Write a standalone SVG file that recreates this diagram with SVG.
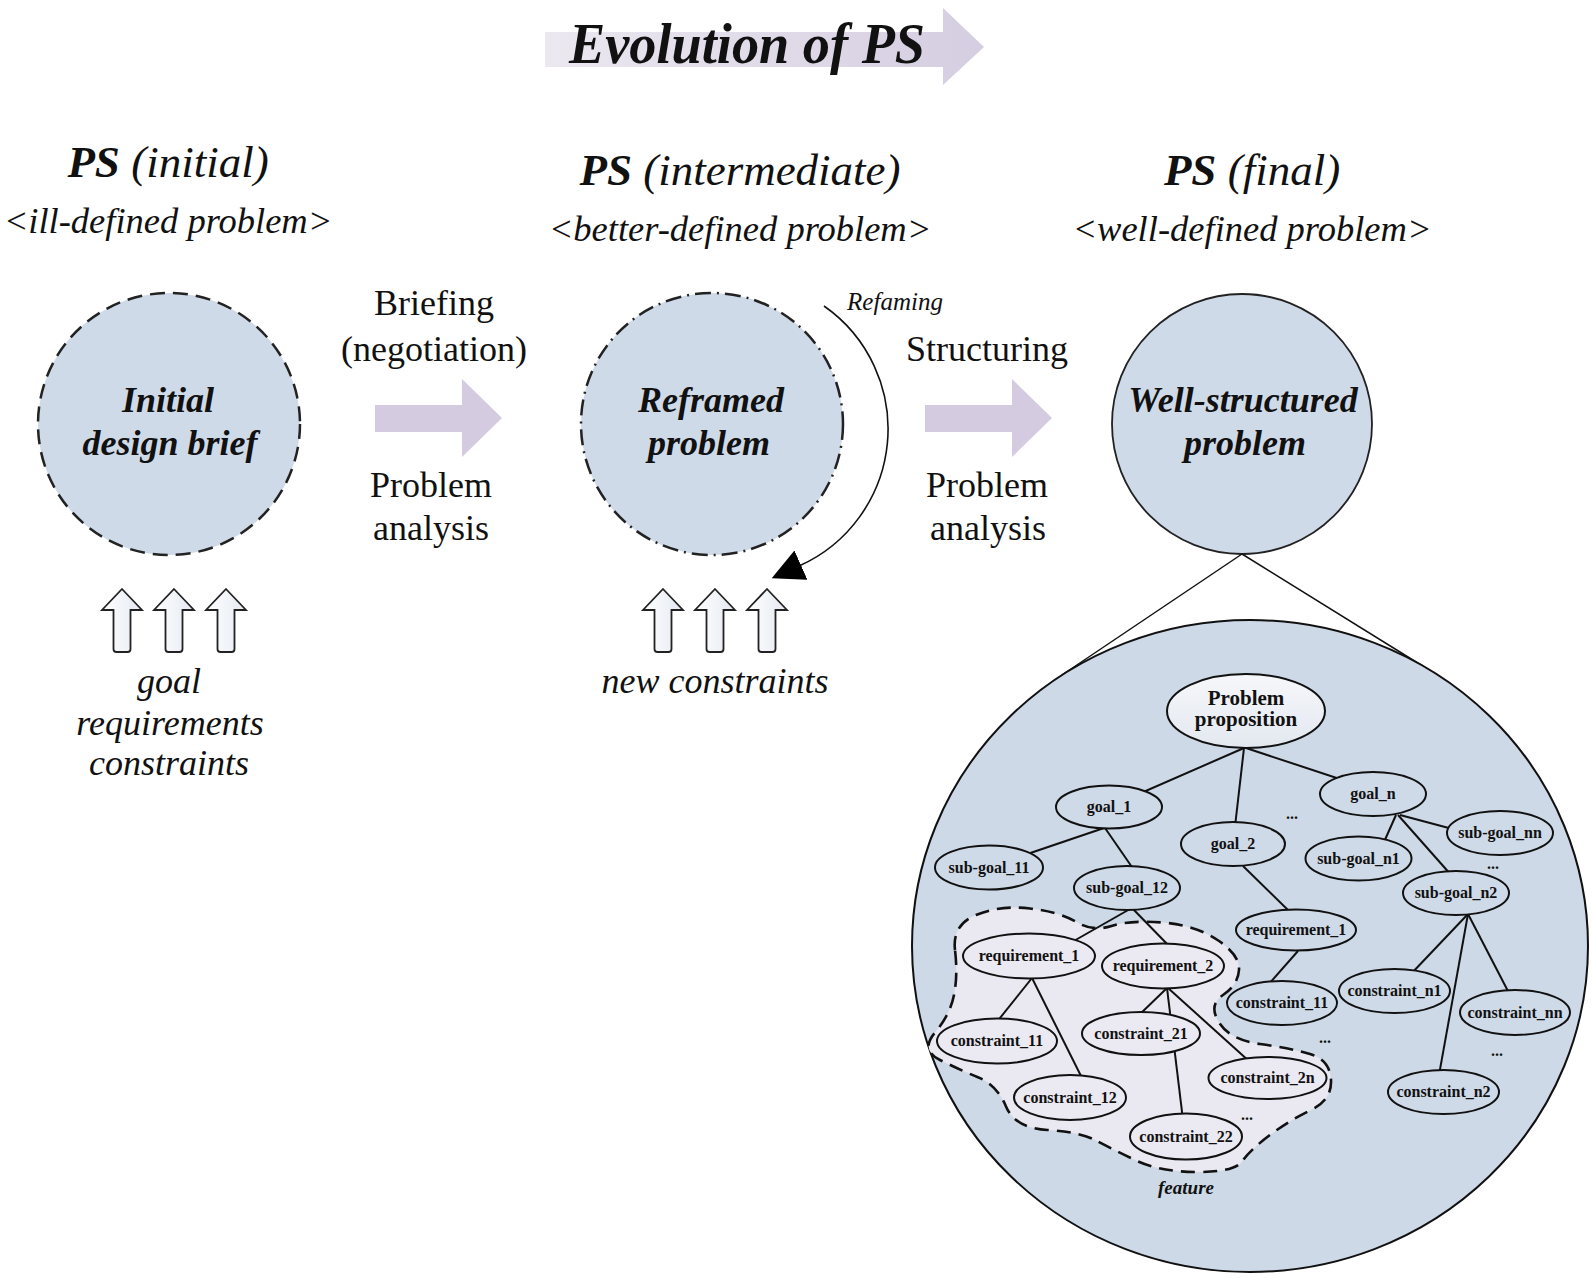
<svg xmlns="http://www.w3.org/2000/svg" width="1594" height="1279" viewBox="0 0 1594 1279">
<defs>
<linearGradient id="gTitle" x1="0" y1="0" x2="1" y2="0"><stop offset="0" stop-color="#ebe8f0"/><stop offset="1" stop-color="#d5cde1"/></linearGradient>
<linearGradient id="gUp" x1="0" y1="0" x2="1" y2="0"><stop offset="0" stop-color="#ffffff"/><stop offset="1" stop-color="#e4e9f1"/></linearGradient>
<linearGradient id="gPP" x1="0" y1="0" x2="0" y2="1"><stop offset="0" stop-color="#f6f7fa"/><stop offset="1" stop-color="#e3e8f0"/></linearGradient>
<marker id="tri" markerUnits="userSpaceOnUse" markerWidth="32" markerHeight="32" viewBox="0 0 30 30" refX="2" refY="15" orient="auto"><path d="M0,0 L30,15 L0,30 Z" fill="#000"/></marker>
<path id="uparrow" d="M0,0 L20,21 H8.5 V60 Q8.5,63 5.5,63 H-5.5 Q-8.5,63 -8.5,60 V21 H-20 Z"/>
<path id="blockarrow" d="M0,-13 H87 V-39 L127,0 L87,39 V14 H0 Z"/>
</defs>
<style>
text{font-family:"Liberation Serif","Times New Roman",serif;fill:#111}
.hdr{font-size:45px;font-style:italic;text-anchor:middle}
.b{font-weight:bold}
.sub{font-size:36.5px;font-style:italic;text-anchor:middle}
.ct{font-size:36px;font-weight:bold;font-style:italic;text-anchor:middle}
.lbl{font-size:36px;text-anchor:middle}
.inp{font-size:36px;font-style:italic;text-anchor:middle}
.circ{fill:#cfdae8}
.nd ellipse{fill:#cfdae8;stroke:#111;stroke-width:2}
.nf ellipse{fill:#ebe9f2;stroke:#111;stroke-width:2}
.nd text,.nf text{font-size:16px;font-weight:bold;text-anchor:middle}
.con line{stroke:#111;stroke-width:2}
.dots{font-size:16px;font-weight:bold;text-anchor:middle}
.blk{fill:#d4cbe0}
.up{fill:url(#gUp);stroke:#222;stroke-width:1.8}
</style>

<g id="title">
<path d="M545,32 H943 V8 L984,47 L943,85 V67 H545 Z" fill="url(#gTitle)"/>
<text x="747" y="63" font-size="56" font-weight="bold" font-style="italic" text-anchor="middle" textLength="356" lengthAdjust="spacingAndGlyphs">Evolution of PS</text>
</g>

<g id="headers">
<text class="hdr" x="168" y="177"><tspan class="b">PS</tspan> (initial)</text>
<text class="sub" x="168" y="233">&lt;ill-defined problem&gt;</text>
<text class="hdr" x="740" y="185"><tspan class="b">PS</tspan> (intermediate)</text>
<text class="sub" x="740" y="241">&lt;better-defined problem&gt;</text>
<text class="hdr" x="1252" y="185"><tspan class="b">PS</tspan> (final)</text>
<text class="sub" x="1252" y="241">&lt;well-defined problem&gt;</text>
</g>

<g id="node-initial">
<circle class="circ" cx="169" cy="424" r="131" stroke="#222" stroke-width="2.5" stroke-dasharray="15 8"/>
<text class="ct" x="168" y="412">Initial</text>
<text class="ct" x="170" y="455">design brief</text>
</g>

<g id="node-reframed">
<circle class="circ" cx="712" cy="424" r="131" stroke="#222" stroke-width="2.5" stroke-dasharray="16 6 2 6"/>
<text class="ct" x="711" y="412">Reframed</text>
<text class="ct" x="709" y="455">problem</text>
</g>

<g id="node-well">
<circle class="circ" cx="1242" cy="424" r="130" stroke="#222" stroke-width="1.8"/>
<text class="ct" x="1243" y="412">Well-structured</text>
<text class="ct" x="1245" y="455">problem</text>
</g>

<g id="transition-1">
<use href="#blockarrow" x="375" y="418" class="blk"/>
<text class="lbl" x="434" y="315">Briefing</text>
<text class="lbl" x="434" y="361">(negotiation)</text>
<text class="lbl" x="431" y="497">Problem</text>
<text class="lbl" x="431" y="540">analysis</text>
</g>

<g id="transition-2">
<use href="#blockarrow" x="925" y="418" class="blk"/>
<text class="lbl" x="987" y="361">Structuring</text>
<text class="lbl" x="987" y="497">Problem</text>
<text class="lbl" x="988" y="540">analysis</text>
</g>

<g id="reframing">
<path d="M824,306 A150,150 0 0 1 799,566" fill="none" stroke="#111" stroke-width="1.6" marker-end="url(#tri)"/>
<text x="895" y="310" font-size="25" font-style="italic" text-anchor="middle">Refaming</text>
</g>

<g id="inputs-initial">
<use href="#uparrow" x="122" y="589" class="up"/>
<use href="#uparrow" x="174" y="589" class="up"/>
<use href="#uparrow" x="226" y="589" class="up"/>
<text class="inp" x="169" y="693">goal</text>
<text class="inp" x="170" y="735" font-size="37">requirements</text>
<text class="inp" x="169" y="775">constraints</text>
</g>

<g id="inputs-reframed">
<use href="#uparrow" x="663" y="589" class="up"/>
<use href="#uparrow" x="715" y="589" class="up"/>
<use href="#uparrow" x="767" y="589" class="up"/>
<text class="inp" x="715" y="693">new constraints</text>
</g>

<g id="zoom-lines" stroke="#111" stroke-width="1.5">
<line x1="1242" y1="554" x2="1062" y2="675"/>
<line x1="1242" y1="554" x2="1429" y2="670"/>
</g>

<g id="structure-circle">
<ellipse cx="1250" cy="946" rx="338" ry="326" fill="#cdd9e7" stroke="#111" stroke-width="2"/>
</g>

<g id="feature">
<path d="M955,950 Q952,925 976,915 Q1000,905 1030,908.5 Q1060,912 1076.5,922 Q1093,932 1111.5,926 Q1130,920 1162.5,922.5 Q1195,925 1217.5,940 Q1240,955 1239,970 Q1238,985 1223,995 Q1208,1005 1219,1022.5 Q1230,1040 1260,1044 Q1290,1048 1310,1054 Q1330,1060 1331,1080 Q1332,1100 1311,1110 Q1290,1120 1270,1135 Q1250,1150 1242.5,1161 Q1235,1172 1197.5,1172 Q1160,1172 1135,1160 Q1110,1148 1095,1140 Q1080,1132 1047.5,1130 Q1015,1128 1006,1106.5 Q997,1085 978.5,1077.5 Q960,1070 940,1060 Q920,1050 935,1032.5 Q950,1015 954,995 Q958,975 955,950 Z" fill="#eae8f1" stroke="#111" stroke-width="2.6" stroke-dasharray="14 8"/>
<text x="1186" y="1194" font-size="19" font-weight="bold" font-style="italic" text-anchor="middle">feature</text>
</g>

<g id="connectors" class="con">
<line x1="1244" y1="748" x2="1109" y2="807"/>
<line x1="1244" y1="748" x2="1233" y2="844"/>
<line x1="1246" y1="748" x2="1373" y2="790"/>
<line x1="1104" y1="828" x2="989" y2="867"/>
<line x1="1105" y1="828" x2="1134" y2="870"/>
<line x1="1243" y1="866" x2="1290" y2="912"/>
<line x1="1298" y1="951" x2="1268" y2="985"/>
<line x1="1396" y1="815" x2="1384" y2="842"/>
<line x1="1400" y1="815" x2="1460" y2="831"/>
<line x1="1398" y1="815" x2="1452" y2="876"/>
<line x1="1468" y1="914" x2="1410" y2="975"/>
<line x1="1468" y1="914" x2="1439" y2="1075"/>
<line x1="1468" y1="914" x2="1510" y2="995"/>
<line x1="1130" y1="909" x2="1072" y2="942"/>
<line x1="1133" y1="909" x2="1171" y2="948"/>
<line x1="1032" y1="978" x2="996" y2="1023"/>
<line x1="1032" y1="978" x2="1083" y2="1080"/>
<line x1="1167" y1="988" x2="1137" y2="1017"/>
<line x1="1167" y1="988" x2="1183" y2="1120"/>
<line x1="1168" y1="988" x2="1250" y2="1062"/>
</g>

<g id="n-problem-proposition">
<ellipse cx="1246" cy="711" rx="79" ry="37" fill="url(#gPP)" stroke="#111" stroke-width="2"/>
<text x="1246" y="705" font-size="21" font-weight="bold" text-anchor="middle">Problem</text>
<text x="1246" y="726" font-size="21" font-weight="bold" text-anchor="middle">proposition</text>
</g>
<g id="n-goal_1" class="nd"><ellipse cx="1109" cy="807" rx="53" ry="21.5"/><text x="1109" y="812">goal_1</text></g>
<g id="n-goal_2" class="nd"><ellipse cx="1233" cy="844" rx="52" ry="22"/><text x="1233" y="849">goal_2</text></g>
<g id="n-goal_n" class="nd"><ellipse cx="1373" cy="794" rx="53" ry="22"/><text x="1373" y="799">goal_n</text></g>
<g id="n-sub-goal_11" class="nd"><ellipse cx="989" cy="867.5" rx="54" ry="22"/><text x="989" y="873">sub-goal_11</text></g>
<g id="n-sub-goal_12" class="nd"><ellipse cx="1127" cy="888" rx="53" ry="22"/><text x="1127" y="893">sub-goal_12</text></g>
<g id="n-sub-goal_n1" class="nd"><ellipse cx="1358.5" cy="858.5" rx="53" ry="22"/><text x="1358.5" y="864">sub-goal_n1</text></g>
<g id="n-sub-goal_nn" class="nd"><ellipse cx="1500" cy="833" rx="53" ry="22"/><text x="1500" y="838">sub-goal_nn</text></g>
<g id="n-sub-goal_n2" class="nd"><ellipse cx="1456" cy="893" rx="53" ry="22"/><text x="1456" y="898">sub-goal_n2</text></g>
<g id="n-requirement_1-b" class="nd"><ellipse cx="1296" cy="930" rx="60" ry="20.5"/><text x="1296" y="935">requirement_1</text></g>
<g id="n-constraint_11-b" class="nd"><ellipse cx="1282" cy="1003" rx="55" ry="22"/><text x="1282" y="1008">constraint_11</text></g>
<g id="n-constraint_n1" class="nd"><ellipse cx="1394.5" cy="991" rx="55.5" ry="22"/><text x="1394.5" y="996">constraint_n1</text></g>
<g id="n-constraint_nn" class="nd"><ellipse cx="1515" cy="1012.5" rx="55" ry="22.5"/><text x="1515" y="1018">constraint_nn</text></g>
<g id="n-constraint_n2" class="nd"><ellipse cx="1443.5" cy="1092" rx="55.5" ry="22"/><text x="1443.5" y="1097">constraint_n2</text></g>
<g id="n-requirement_1-a" class="nf"><ellipse cx="1029" cy="956" rx="66" ry="22.5"/><text x="1029" y="961">requirement_1</text></g>
<g id="n-requirement_2" class="nf"><ellipse cx="1163" cy="966" rx="61" ry="22.5"/><text x="1163" y="971">requirement_2</text></g>
<g id="n-constraint_11-a" class="nf"><ellipse cx="997" cy="1041" rx="60" ry="22.5"/><text x="997" y="1046">constraint_11</text></g>
<g id="n-constraint_21" class="nf"><ellipse cx="1141" cy="1033.5" rx="59" ry="21.5"/><text x="1141" y="1039">constraint_21</text></g>
<g id="n-constraint_2n" class="nf"><ellipse cx="1267.5" cy="1078" rx="59" ry="21"/><text x="1267.5" y="1083">constraint_2n</text></g>
<g id="n-constraint_12" class="nf"><ellipse cx="1070" cy="1097.5" rx="56" ry="22.5"/><text x="1070" y="1103">constraint_12</text></g>
<g id="n-constraint_22" class="nf"><ellipse cx="1186" cy="1136.5" rx="56" ry="23"/><text x="1186" y="1142">constraint_22</text></g>

<g id="ellipses">
<text class="dots" x="1292" y="819">...</text>
<text class="dots" x="1493" y="869">...</text>
<text class="dots" x="1325" y="1043">...</text>
<text class="dots" x="1497" y="1056">...</text>
<text class="dots" x="1247" y="1120">...</text>
</g>
</svg>
